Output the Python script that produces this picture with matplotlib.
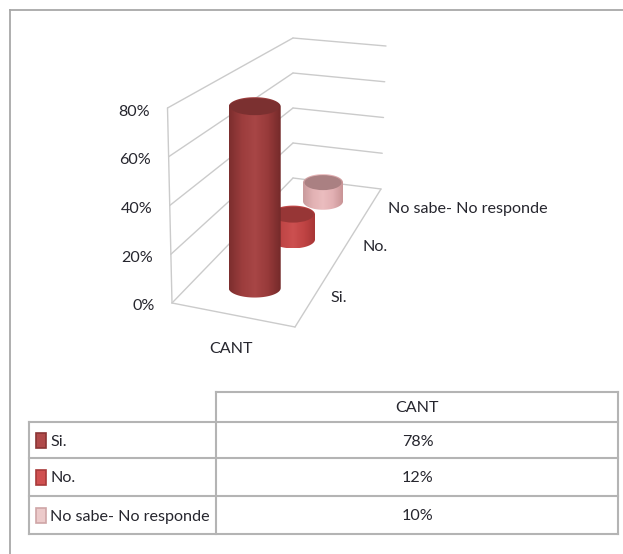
import numpy as np
import matplotlib
matplotlib.use('agg')
import matplotlib.pyplot as plt
from matplotlib.colors import LinearSegmentedColormap
from matplotlib.patches import Ellipse, Polygon, Rectangle

plt.rcParams['font.family'] = ['Lato', 'Liberation Sans', 'DejaVu Sans']

# data
categories = ['Si.', 'No.', 'No sabe- No responde']
values = [78, 12, 10]
group = 'CANT'
ticks = [0, 20, 40, 60, 80]
table_values = ['78%', '12%', '10%']

# style of each cylinder
depths = [0.205, 0.575, 0.865]
radius_x = [26, 22, 20]
radius_y = [9.5, 9, 8.5]
body_colors = [
    ['#7c2e2e', '#9c3d3d', '#a84646', '#983a3a', '#742a2a'],
    ['#a63434', '#c04646', '#cc5050', '#c04444', '#a83636'],
    ['#c99a9c', '#e2b2b4', '#ebbdbf', '#e2b0b3', '#c99496'],
]
top_colors = ['#7b3030', '#973636', '#aa8082']
swatch_edges = ['#8a3535', '#a83a3a', '#cfa5a7']
swatch_colors = ['#b04a4a', '#d05050', '#eccaca']

GRID = '#cbcbcb'
FRAME = '#a8a8a8'
TABLE = '#b4b4b4'
TEXT = '#26262e'
SIZE = 11.6

# box of the 3d plot, pixels
floor = {'fl': (172, 303), 'fr': (295, 327), 'bl': (293, 178), 'br': (381, 189)}
roof = {'fl': (167.5, 108), 'fr': (290, 127), 'bl': (293, 38), 'br': (386, 46)}


def project(x, d, v):
    # x across, d depth (0 front), v value on the y axis
    def blend(c):
        front = np.array(c['fl']) * (1 - x) + np.array(c['fr']) * x
        back = np.array(c['bl']) * (1 - x) + np.array(c['br']) * x
        return front * (1 - d) + back * d
    return blend(floor) * (1 - v / ticks[-1]) + blend(roof) * v / ticks[-1]


def line3d(ax, a, b):
    ax.plot([a[0], b[0]], [a[1], b[1]], color=GRID, lw=1.0, solid_capstyle='round')


def cylinder(ax, d, value, rx, ry, colors, top):
    base = project(0.5, d, 0)
    head_y = project(0.5, d, value)[1]
    t = np.linspace(0, np.pi, 60)
    lower_x = base[0] + rx * np.cos(t)
    lower_y = base[1] + ry * np.sin(t)
    upper_x = base[0] - rx * np.cos(t)
    upper_y = head_y - ry * np.sin(t)
    pts = np.column_stack([np.r_[lower_x, upper_x], np.r_[lower_y, upper_y]])
    clip = Polygon(pts, closed=True, transform=ax.transData, fc='none', ec='none')
    ax.add_patch(clip)
    cmap = LinearSegmentedColormap.from_list('body', colors)
    im = ax.imshow(np.linspace(0, 1, 128).reshape(1, -1), cmap=cmap, aspect='auto',
                   extent=(base[0] - rx, base[0] + rx, base[1] + ry, head_y - ry),
                   interpolation='bilinear', zorder=3)
    im.set_clip_path(clip)
    ax.add_patch(Ellipse((base[0], head_y), 2 * rx - 3, 2 * ry - 2, fc=top, ec='none', zorder=3))


fig = plt.figure(figsize=(6.23, 5.54), dpi=100)
ax = fig.add_axes([0, 0, 1, 1])
ax.axis('off')

# outer frame
ax.plot([10, 10], [554, 10], color=FRAME, lw=1.3)
ax.plot([10, 623], [10, 10], color=FRAME, lw=1.3)

# walls and floor
for tick in ticks:
    a = project(0, 0, tick)
    b = project(0, 1, tick)
    c = project(1, 1, tick)
    line3d(ax, a, b)
    line3d(ax, b, c)
line3d(ax, project(0, 0, 0), project(0, 0, ticks[-1]))
line3d(ax, project(0, 0, 0), project(1, 0, 0))
line3d(ax, project(1, 0, 0), project(1, 1, 0))

# far cylinders first
for i in range(len(values) - 1, -1, -1):
    cylinder(ax, depths[i], values[i], radius_x[i], radius_y[i], body_colors[i], top_colors[i])

# axis text
for tick in ticks:
    p = project(0, 0, tick)
    ax.text(p[0] - 17.5, p[1] + 3.5, '%d%%' % tick, ha='right', va='center', fontsize=SIZE, color=TEXT)
ax.text(231, 349, group, ha='center', va='center', fontsize=SIZE, color=TEXT)
ax.text(339, 298, categories[0], ha='center', va='center', fontsize=SIZE, color=TEXT)
ax.text(375, 247, categories[1], ha='center', va='center', fontsize=SIZE, color=TEXT)
ax.text(388, 209, categories[2], ha='left', va='center', fontsize=SIZE, color=TEXT)

# data table
rows = [392, 422, 458, 496, 534]
left, mid, right = 29, 216, 618
ax.plot([mid, right], [rows[0], rows[0]], color=TABLE, lw=1.5)
for r in rows[1:]:
    ax.plot([left, right], [r, r], color=TABLE, lw=1.5)
ax.plot([left, left], [rows[1], rows[-1]], color=TABLE, lw=1.5)
ax.plot([mid, mid], [rows[0], rows[-1]], color=TABLE, lw=1.5)
ax.plot([right, right], [rows[0], rows[-1]], color=TABLE, lw=1.5)

centre = (mid + right) / 2 + 0.5
ax.text(centre, (rows[0] + rows[1]) / 2 + 1, group, ha='center', va='center', fontsize=SIZE, color=TEXT)
for i, cat in enumerate(categories):
    y = (rows[i + 1] + rows[i + 2]) / 2 + 1.5
    ax.add_patch(Rectangle((36, y - 9), 10, 15, fc=swatch_colors[i], ec=swatch_edges[i], lw=1.2))
    ax.text(50, y, cat, ha='left', va='center', fontsize=SIZE, color=TEXT)
    ax.text(centre, y, table_values[i], ha='center', va='center', fontsize=SIZE, color=TEXT)

ax.set_xlim(0, 623)
ax.set_ylim(554, 0)
fig.savefig('out.png', dpi=100)
